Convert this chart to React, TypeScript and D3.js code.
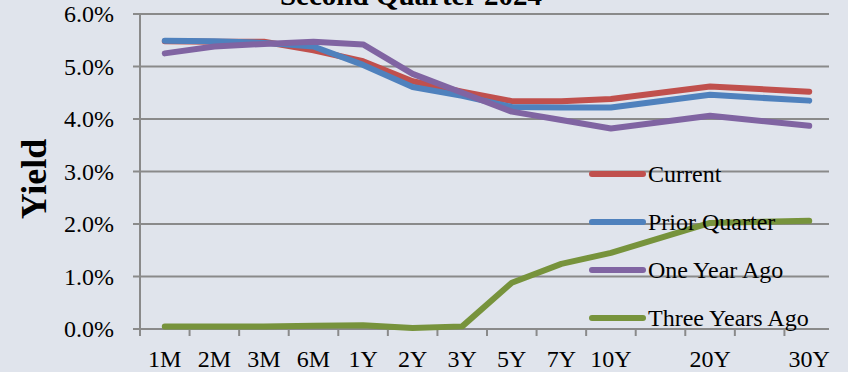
import React, { useEffect, useRef } from 'react';
import * as d3 from 'd3';

// Treasury yield curve data (%), null = empty category slot
const categories = ['1M', '2M', '3M', '6M', '1Y', '2Y', '3Y', '5Y', '7Y', '10Y', '', '20Y', '', '30Y'];
const current = [5.48, 5.47, 5.47, 5.31, 5.10, 4.72, 4.52, 4.34, 4.34, 4.38, null, 4.62, null, 4.52];
const priorQuarter = [5.49, 5.48, 5.45, 5.38, 5.03, 4.61, 4.44, 4.23, 4.22, 4.22, null, 4.46, null, 4.35];
const oneYearAgo = [5.25, 5.38, 5.43, 5.47, 5.42, 4.86, 4.50, 4.14, 3.98, 3.82, null, 4.06, null, 3.87];
const threeYearsAgo = [0.05, 0.05, 0.05, 0.06, 0.07, 0.02, 0.05, 0.88, 1.24, 1.45, null, 2.02, null, 2.06];
const yTicks = [0, 1, 2, 3, 4, 5, 6];

const series = [
  { name: 'Current', values: current, color: '#c0504d' },
  { name: 'Prior Quarter', values: priorQuarter, color: '#4f81bd' },
  { name: 'One Year Ago', values: oneYearAgo, color: '#8064a2' },
  { name: 'Three Years Ago', values: threeYearsAgo, color: '#77933c' },
];

const App: React.FC = () => {
  const ref = useRef<SVGSVGElement | null>(null);

  useEffect(() => {
    if (!ref.current) return;
    const svg = d3.select(ref.current);
    svg.selectAll('*').remove();
    const width = 848;
    const height = 372;
    const margin = { top: 14, left: 140, bottom: 43, right: 14 };
    const gridRight = 829;
    const font = '"Liberation Serif", "Times New Roman", serif';
    const axisColor = '#8a8a8a';

    svg.append('rect').attr('width', width).attr('height', height).attr('fill', '#e0e4ec');

    const x = d3.scaleBand<number>()
      .domain(d3.range(categories.length))
      .range([margin.left, width - margin.right]);
    const y = d3.scaleLinear().domain([0, 6]).range([height - margin.bottom, margin.top]);

    // gridlines
    svg.append('g')
      .selectAll('line')
      .data(yTicks.filter(t => t > 0))
      .enter()
      .append('line')
      .attr('x1', margin.left)
      .attr('x2', gridRight)
      .attr('y1', d => y(d))
      .attr('y2', d => y(d))
      .attr('stroke', axisColor)
      .attr('stroke-width', 2);

    // axes
    svg.append('line')
      .attr('x1', margin.left).attr('x2', margin.left)
      .attr('y1', y(6)).attr('y2', y(0) + 7)
      .attr('stroke', axisColor).attr('stroke-width', 2);
    svg.append('line')
      .attr('x1', margin.left - 7).attr('x2', gridRight)
      .attr('y1', y(0)).attr('y2', y(0))
      .attr('stroke', axisColor).attr('stroke-width', 2);

    svg.append('g')
      .selectAll('line')
      .data(yTicks)
      .enter()
      .append('line')
      .attr('x1', margin.left - 7)
      .attr('x2', margin.left)
      .attr('y1', d => y(d))
      .attr('y2', d => y(d))
      .attr('stroke', axisColor)
      .attr('stroke-width', 2);

    svg.append('g')
      .selectAll('line')
      .data(d3.range(1, categories.length))
      .enter()
      .append('line')
      .attr('x1', d => margin.left + d * x.bandwidth())
      .attr('x2', d => margin.left + d * x.bandwidth())
      .attr('y1', y(0))
      .attr('y2', y(0) + 7)
      .attr('stroke', axisColor)
      .attr('stroke-width', 2);

    svg.append('g')
      .selectAll('text')
      .data(yTicks)
      .enter()
      .append('text')
      .attr('x', 114)
      .attr('y', d => y(d) + 8)
      .attr('text-anchor', 'end')
      .style('font-family', font)
      .style('font-size', '24px')
      .attr('fill', '#000')
      .text(d => `${d.toFixed(1)}%`);

    svg.append('g')
      .selectAll('text')
      .data(categories.map((c, i) => ({ c, i })).filter(d => d.c !== ''))
      .enter()
      .append('text')
      .attr('x', d => (x(d.i) || 0) + x.bandwidth() / 2)
      .attr('y', 367)
      .attr('text-anchor', 'middle')
      .style('font-family', font)
      .style('font-size', '24px')
      .attr('fill', '#000')
      .text(d => d.c);

    // title (clipped at top, as in the original)
    svg.append('text')
      .attr('x', 411)
      .attr('y', 5)
      .attr('text-anchor', 'middle')
      .style('font-family', font)
      .style('font-size', '29px')
      .style('font-weight', 'bold')
      .text('Second Quarter 2024');

    svg.append('text')
      .attr('transform', 'translate(46,179) rotate(-90)')
      .attr('text-anchor', 'middle')
      .style('font-family', font)
      .style('font-size', '36px')
      .style('font-weight', 'bold')
      .text('Yield');

    // lines, skipping the empty category slots
    series.forEach(s => {
      const pts = s.values
        .map((v, i) => ({ v, i }))
        .filter(d => d.v !== null) as { v: number; i: number }[];
      const l = d3.line<{ v: number; i: number }>()
        .x(d => (x(d.i) || 0) + x.bandwidth() / 2)
        .y(d => y(d.v));
      svg.append('path')
        .datum(pts)
        .attr('fill', 'none')
        .attr('stroke', s.color)
        .attr('stroke-width', 6)
        .attr('stroke-linejoin', 'round')
        .attr('stroke-linecap', 'round')
        .attr('d', l);
    });

    // legend
    const legend = svg.append('g');
    series.forEach((s, i) => {
      const ly = 174 + i * 48;
      legend.append('line')
        .attr('x1', 592).attr('x2', 643)
        .attr('y1', ly).attr('y2', ly)
        .attr('stroke', s.color)
        .attr('stroke-width', 6)
        .attr('stroke-linecap', 'round');
      legend.append('text')
        .attr('x', 648)
        .attr('y', ly + 8)
        .style('font-family', font)
        .style('font-size', '24px')
        .attr('fill', '#000')
        .text(s.name);
    });
  }, []);

  return (
    <svg
      ref={ref}
      width={848}
      height={372}
      style={{ position: 'absolute', left: 0, top: 0 }}
    />
  );
};

export default App;
